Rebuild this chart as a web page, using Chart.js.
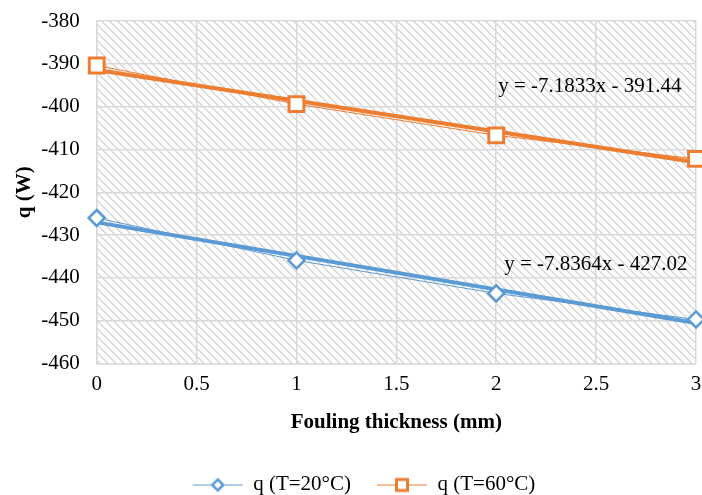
<!DOCTYPE html>
<html>
<head>
<meta charset="utf-8">
<script src="https://cdn.jsdelivr.net/npm/chart.js@4"></script>
<style>
  html, body { margin: 0; padding: 0; background: #fff; }
  canvas { display: block; }
</style>
</head>
<body>
<canvas id="chart" width="702" height="495"></canvas>
<script>
const thickness = [0, 1, 2, 3];
const q20 = [-426.0, -435.9, -443.6, -449.7];
const q60 = [-390.4, -399.4, -406.7, -412.2];
const seriesNames = ['q (T=20°C)', 'q (T=60°C)'];
// trendline coefficients as printed on the chart
const trend20 = { slope: -7.8364, intercept: -427.02, label: 'y = -7.8364x - 427.02' };
const trend60 = { slope: -7.1833, intercept: -391.44, label: 'y = -7.1833x - 391.44' };

const blue = '#5B9BD5';
const orange = '#ED7D31';
const font = "'Liberation Serif', 'Times New Roman', serif";
const fontSize = 21;

function trendPoints(t) {
    return [0, 3].map(x => ({ x: x, y: t.slope * x + t.intercept }));
}

// legend symbol: thin line with the marker, blank gap on the left for item spacing
function legendIcon(color, style) {
    const gap = 24;
    const c = document.createElement('canvas');
    c.width = gap + 50;
    c.height = 20;
    const g = c.getContext('2d');
    const cx = gap + 25;
    g.strokeStyle = color;
    g.lineWidth = 1;
    g.beginPath();
    g.moveTo(gap, 10.5);
    g.lineTo(gap + 50, 10.5);
    g.stroke();
    g.fillStyle = '#fff';
    g.lineWidth = style === 'rect' ? 3 : 2.5;
    g.beginPath();
    if (style === 'rect') {
        g.rect(cx - 5.5, 5, 11, 11);
    } else {
        g.moveTo(cx, 5);
        g.lineTo(cx + 5.5, 10.5);
        g.lineTo(cx, 16);
        g.lineTo(cx - 5.5, 10.5);
        g.closePath();
    }
    g.fill();
    g.stroke();
    return c;
}

function hatch() {
    const c = document.createElement('canvas');
    c.width = 8;
    c.height = 8;
    const g = c.getContext('2d');
    g.fillStyle = '#fff';
    g.fillRect(0, 0, 8, 8);
    g.fillStyle = '#d9d9d9';
    for (let i = 0; i < 8; i++) {
        g.fillRect(i, i, 1, 1);
        g.fillRect((i + 1) % 8, i, 1, 1);
    }
    return c;
}

const bgPlugin = {
    id: 'hatchBg',
    beforeDraw(chart) {
        const a = chart.chartArea;
        const ctx = chart.ctx;
        ctx.save();
        ctx.fillStyle = ctx.createPattern(hatch(), 'repeat');
        ctx.fillRect(a.left, a.top, a.right - a.left, a.bottom - a.top);
        ctx.restore();
    }
};

// equation text, anchored in data units
const eqLabels = [
    { t: trend60, x: 2.01, y: -395.3 },
    { t: trend20, x: 2.04, y: -436.9 }
];
const eqPlugin = {
    id: 'equations',
    afterDatasetsDraw(chart) {
        const ctx = chart.ctx;
        const xs = chart.scales.x, ys = chart.scales.y;
        ctx.save();
        ctx.font = fontSize + 'px ' + font;
        ctx.fillStyle = '#000';
        ctx.textBaseline = 'middle';
        eqLabels.forEach(l => {
            ctx.fillText(l.t.label, xs.getPixelForValue(l.x), ys.getPixelForValue(l.y));
        });
        ctx.restore();
    }
};

const ctx = document.getElementById('chart').getContext('2d');

const chart = new Chart(ctx, {
    type: 'line',
    data: {
        datasets: [
            {
                label: seriesNames[0],
                data: thickness.map((x, i) => ({ x: x, y: q20[i] })),
                borderColor: blue,
                borderWidth: 1,
                pointStyle: 'rectRot',
                pointRadius: 8,
                pointBorderWidth: 2.5,
                pointBackgroundColor: '#fff',
                pointBorderColor: blue,
                clip: false,
                legendIcon: legendIcon(blue, 'rectRot')
            },
            {
                label: seriesNames[1],
                data: thickness.map((x, i) => ({ x: x, y: q60[i] })),
                borderColor: orange,
                borderWidth: 1,
                pointStyle: 'rect',
                pointRadius: 10.5,
                pointBorderWidth: 3,
                pointBackgroundColor: '#fff',
                pointBorderColor: orange,
                clip: false,
                legendIcon: legendIcon(orange, 'rect')
            },
            {
                label: 'trend20',
                data: trendPoints(trend20),
                borderColor: blue,
                borderWidth: 4,
                pointRadius: 0,
                clip: false
            },
            {
                label: 'trend60',
                data: trendPoints(trend60),
                borderColor: orange,
                borderWidth: 4,
                pointRadius: 0,
                clip: false
            }
        ]
    },
    options: {
        responsive: false,
        animation: false,
        layout: { autoPadding: false, padding: { top: 21, right: 6, left: 8, bottom: -10 } },
        scales: {
            x: {
                type: 'linear',
                min: 0,
                max: 3,
                ticks: {
                    stepSize: 0.5,
                    padding: 0,
                    color: '#000',
                    font: { family: font, size: fontSize },
                    callback: v => String(v)
                },
                grid: { color: '#d9d9d9', lineWidth: 1.5, tickLength: 8, tickColor: 'rgba(0,0,0,0)' },
                border: { color: '#d9d9d9', width: 1.5 },
                title: {
                    display: true,
                    text: 'Fouling thickness (mm)',
                    color: '#000',
                    font: { family: font, size: fontSize, weight: 'bold' },
                    padding: { top: 13, bottom: 37 }
                }
            },
            y: {
                min: -460,
                max: -380,
                ticks: {
                    stepSize: 10,
                    padding: 0,
                    color: '#000',
                    font: { family: font, size: fontSize }
                },
                grid: { color: '#d9d9d9', lineWidth: 1.5, tickLength: 17, tickColor: 'rgba(0,0,0,0)' },
                border: { color: '#d9d9d9', width: 1.5 },
                title: {
                    display: true,
                    text: 'q (W)',
                    color: '#000',
                    font: { family: font, size: fontSize, weight: 'bold' },
                    padding: { top: 4, bottom: 4 }
                }
            }
        },
        plugins: {
            legend: {
                position: 'bottom',
                labels: {
                    filter: item => item.datasetIndex < 2,
                    generateLabels(chart) {
                        return chart.data.datasets.map((ds, i) => ({
                            text: ds.label,
                            pointStyle: ds.legendIcon,
                            datasetIndex: i,
                            fontColor: '#000',
                            lineWidth: 0,
                            hidden: false
                        }));
                    },
                    usePointStyle: true,
                    pointStyleWidth: 74,
                    padding: 2,
                    color: '#000',
                    font: { family: font, size: fontSize }
                }
            },
            tooltip: { enabled: false }
        }
    },
    plugins: [bgPlugin, eqPlugin]
});
</script>
</body>
</html>
